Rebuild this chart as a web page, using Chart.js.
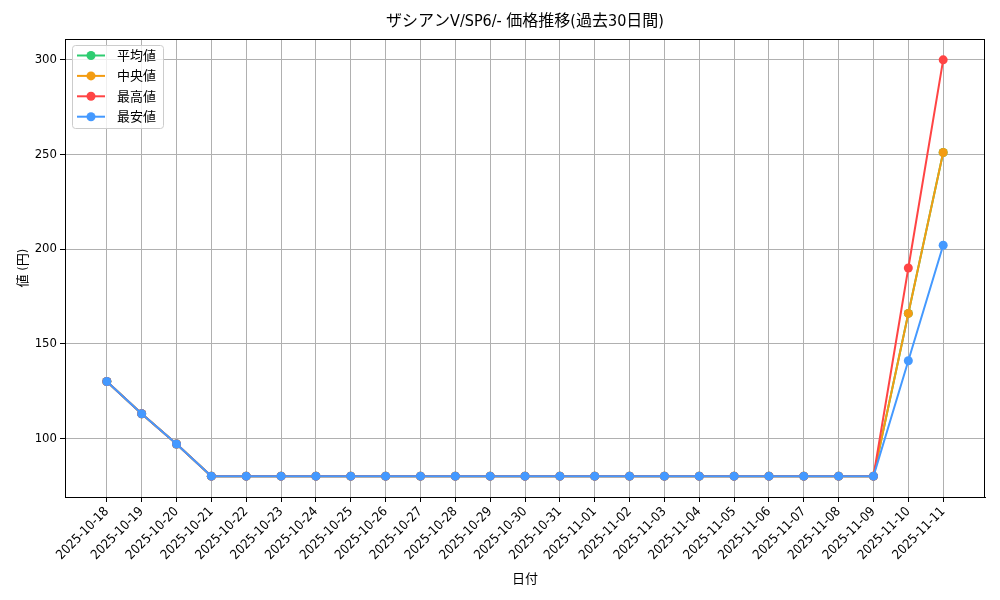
<!DOCTYPE html>
<html>
<head>
<meta charset="utf-8">
<script src="https://cdn.jsdelivr.net/npm/chart.js@4.4.1/dist/chart.umd.min.js"></script>
<style>
  html, body { margin: 0; padding: 0; background: #fff; }
  #wrap { width: 1000px; height: 600px; }
</style>
</head>
<body>
<div id="wrap"><canvas id="myChart" width="1000" height="600"></canvas></div>
<script>
const dates = ['2025-10-18', '2025-10-19', '2025-10-20', '2025-10-21', '2025-10-22', '2025-10-23',
    '2025-10-24', '2025-10-25', '2025-10-26', '2025-10-27', '2025-10-28', '2025-10-29',
    '2025-10-30', '2025-10-31', '2025-11-01', '2025-11-02', '2025-11-03', '2025-11-04',
    '2025-11-05', '2025-11-06', '2025-11-07', '2025-11-08', '2025-11-09', '2025-11-10', '2025-11-11'];
const avgPrice = [130, 113, 97, 80, 80, 80, 80, 80, 80, 80, 80, 80, 80, 80, 80, 80, 80, 80, 80, 80, 80, 80, 80, 166, 251];
const medianPrice = [130, 113, 97, 80, 80, 80, 80, 80, 80, 80, 80, 80, 80, 80, 80, 80, 80, 80, 80, 80, 80, 80, 80, 166, 251];
const maxPrice = [130, 113, 97, 80, 80, 80, 80, 80, 80, 80, 80, 80, 80, 80, 80, 80, 80, 80, 80, 80, 80, 80, 80, 190, 300];
const minPrice = [130, 113, 97, 80, 80, 80, 80, 80, 80, 80, 80, 80, 80, 80, 80, 80, 80, 80, 80, 80, 80, 80, 80, 141, 202];
const yTicks = [100, 150, 200, 250, 300];

const FONT = '"Liberation Sans Narrow", "DejaVu Sans Condensed", "Noto Sans CJK JP", sans-serif';
const colors = ['#2ecc71', '#f39c12', '#ff4444', '#4499ff'];
const names = ['平均値', '中央値', '最高値', '最安値'];
const series = [avgPrice, medianPrice, maxPrice, minPrice];

const toPoints = (arr) => arr.map((v, i) => ({ x: i, y: v }));

// frame, title and legend box like the original
const extras = {
    id: 'extras',
    afterDraw(chart) {
        const c = chart.ctx;
        const a = chart.chartArea;
        c.save();
        c.strokeStyle = '#000';
        c.lineWidth = 1;
        c.strokeRect(a.left + 0.5, a.top + 0.5, a.right - a.left - 1, a.bottom - a.top);

        c.fillStyle = '#000';
        c.font = '16px ' + FONT;
        c.textAlign = 'center';
        c.textBaseline = 'middle';
        c.fillText('ザシアンV/SP6/- 価格推移(過去30日間)', (a.left + a.right) / 2, 22);

        // legend
        const bx = 72, by = 45, bw = 91, bh = 83;
        c.fillStyle = 'rgba(255,255,255,0.8)';
        c.strokeStyle = '#cccccc';
        c.beginPath();
        c.roundRect(bx + 0.5, by + 0.5, bw, bh, 3);
        c.fill();
        c.stroke();
        c.font = '13px ' + FONT;
        c.textAlign = 'left';
        chart.data.datasets.forEach((ds, i) => {
            const y = 55.5 + i * 20.4;
            c.strokeStyle = ds.borderColor;
            c.lineWidth = 2;
            c.beginPath();
            c.moveTo(77, y);
            c.lineTo(105, y);
            c.stroke();
            c.fillStyle = ds.backgroundColor;
            c.beginPath();
            c.arc(91, y, 4.5, 0, Math.PI * 2);
            c.fill();
            c.fillStyle = '#000';
            c.fillText(ds.label, 117, y + 1);
        });
        c.restore();
    }
};

new Chart(document.getElementById('myChart'), {
    type: 'line',
    data: {
        datasets: series.map((arr, i) => ({
            label: names[i],
            data: toPoints(arr),
            borderColor: colors[i],
            backgroundColor: colors[i],
            borderWidth: 2,
            pointRadius: 4.5,
            pointHoverRadius: 4.5,
            pointBorderWidth: 0,
            tension: 0,
            order: 3 - i
        }))
    },
    options: {
        responsive: false,
        animation: false,
        events: [],
        layout: { padding: { top: 39, right: 15, left: 0, bottom: 13 } },
        plugins: {
            legend: { display: false },
            title: { display: false },
            tooltip: { enabled: false }
        },
        scales: {
            x: {
                type: 'linear',
                min: -1.2,
                max: 25.2,
                afterBuildTicks: (scale) => { scale.ticks = dates.map((d, i) => ({ value: i })); },
                afterFit: (scale) => { scale.height = 90; },
                grid: { color: '#b0b0b0', lineWidth: 1, tickColor: '#000', tickLength: 5 },
                border: { color: '#000', width: 1 },
                ticks: {
                    autoSkip: false,
                    minRotation: 45,
                    maxRotation: 45,
                    padding: 2,
                    color: '#000',
                    font: { family: FONT, size: 13 },
                    callback: (v) => dates[v]
                },
                title: {
                    display: true,
                    text: '日付',
                    color: '#000',
                    font: { family: FONT, size: 13 },
                    padding: 0
                }
            },
            y: {
                min: 69,
                max: 311,
                afterBuildTicks: (scale) => { scale.ticks = yTicks.map(v => ({ value: v })); },
                afterFit: (scale) => { scale.width = 65; },
                grid: { color: '#b0b0b0', lineWidth: 1, tickColor: '#000', tickLength: 5 },
                border: { color: '#000', width: 1 },
                ticks: {
                    color: '#000',
                    padding: 3,
                    font: { family: FONT, size: 13 }
                },
                title: {
                    display: true,
                    text: '値 (円)',
                    color: '#000',
                    font: { family: FONT, size: 13 },
                    padding: { top: 16, bottom: 0 }
                }
            }
        }
    },
    plugins: [extras]
});
</script>
</body>
</html>
